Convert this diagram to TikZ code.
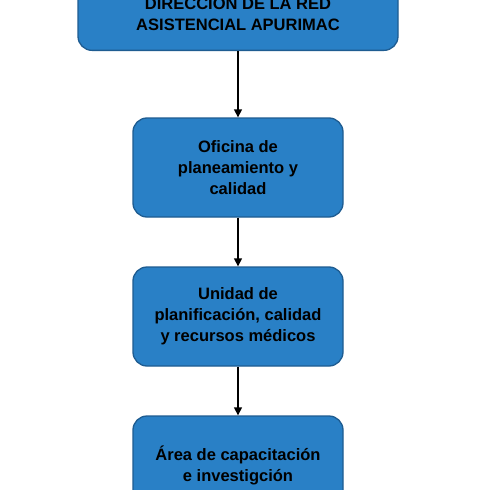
\documentclass[tikz,border=0pt]{standalone}
\usepackage{fontspec}
\setmainfont{Liberation Sans}
\usetikzlibrary{arrows.meta}
\definecolor{boxfill}{RGB}{41,128,198}
\definecolor{boxline}{RGB}{30,92,145}
\tikzset{
  boxtext/.style={font=\fontsize{16.5}{21}\selectfont\bfseries, text=black, align=center},
  orgbox/.style={draw=boxline, line width=1.3pt, fill=boxfill, rounded corners=14pt,
    minimum width=210pt, minimum height=99pt, inner sep=0pt, boxtext},
  link/.style={draw=black, line width=1.3pt, -{Triangle[length=8pt,width=8pt]}}
}
\begin{document}
\begin{tikzpicture}[x=1pt,y=-1pt]
\useasboundingbox (0,0) rectangle (491,490);
\clip (0,0) rectangle (491,490);
\fill[white] (0,0) rectangle (491,490);
\node[orgbox, minimum width=320pt, minimum height=99pt, anchor=south] (top) at (238,51) {};
\node[boxtext] (toptext) at (238,12.5) {DIRECCIÓN DE LA RED\\ASISTENCIAL APURIMAC};
\node[orgbox] (ofi) at (238,167.5) {Oficina de\\planeamiento y\\calidad};
\node[orgbox] (uni) at (238,316.5) {Unidad de\\planificación, calidad\\y recursos médicos};
\node[orgbox] (area) at (238,465.5) {};
\node[boxtext] (areatext) at (238,465.5) {Área de capacitación\\e investigción};
\draw[link] (top.south) -- (ofi.north);
\draw[link] (ofi.south) -- (uni.north);
\draw[link] (uni.south) -- (area.north);
\end{tikzpicture}
\end{document}
